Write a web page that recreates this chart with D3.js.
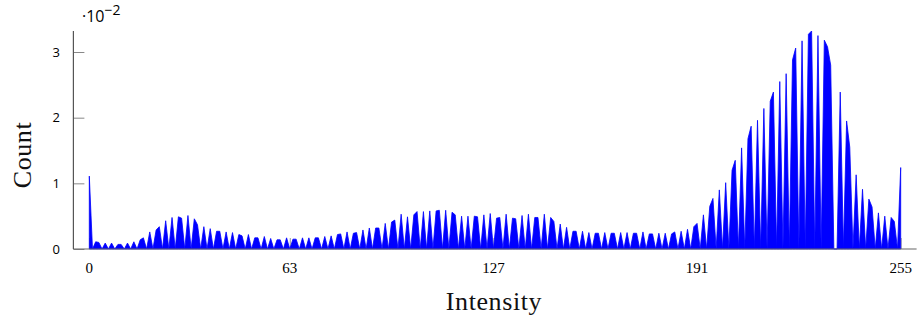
<!DOCTYPE html>
<html>
<head>
<meta charset="utf-8">
<script src="https://cdn.jsdelivr.net/npm/d3@7/dist/d3.min.js"></script>
<style>
  body { margin: 0; background: #fff; }
  .ytick text { font-family: "Open Sans", "Noto Sans", sans-serif; font-size: 13px; }
  .xtick text { font-family: "Liberation Serif", "DejaVu Serif", serif; font-size: 15px; }
  .aLabel { font-family: "Liberation Serif", "DejaVu Serif", serif; font-size: 26px; letter-spacing: 0.6px; fill: #111; }
</style>
</head>
<body>
<div id="chart"></div>
<script>
// histogram of intensities, values read in units of 10^-2
var intensity = d3.range(256);
var counts = [
  1.11, 0, 0.11, 0.10, 0, 0.09, 0, 0.09, 0, 0.07, 0.07, 0, 0.09, 0, 0.11, 0,
  0.14, 0.17, 0, 0.26, 0, 0.29, 0.34, 0, 0.43, 0, 0.48, 0, 0.49, 0.47, 0, 0.51,
  0, 0.46, 0.37, 0, 0.34, 0, 0.31, 0, 0.27, 0.27, 0, 0.26, 0, 0.25, 0, 0.22,
  0.20, 0, 0.22, 0, 0.17, 0.17, 0, 0.19, 0, 0.16, 0, 0.14, 0.14, 0, 0.17, 0,
  0.15, 0.15, 0, 0.17, 0, 0.17, 0, 0.17, 0.17, 0, 0.19, 0, 0.20, 0, 0.22, 0.23,
  0, 0.26, 0, 0.24, 0.25, 0, 0.29, 0, 0.32, 0, 0.32, 0.32, 0, 0.39, 0, 0.41,
  0.44, 0, 0.53, 0, 0.49, 0, 0.52, 0.57, 0, 0.57, 0, 0.58, 0, 0.58, 0.59, 0,
  0.59, 0, 0.56, 0.52, 0, 0.50, 0, 0.50, 0, 0.50, 0.49, 0, 0.52, 0, 0.54, 0,
  0.47, 0.48, 0, 0.53, 0, 0.47, 0.46, 0, 0.51, 0, 0.53, 0, 0.48, 0.48, 0, 0.53,
  0, 0.48, 0.42, 0, 0.38, 0, 0.33, 0, 0.27, 0.27, 0, 0.27, 0, 0.25, 0, 0.24,
  0.24, 0, 0.25, 0, 0.24, 0.24, 0, 0.25, 0, 0.25, 0, 0.24, 0.24, 0, 0.26, 0,
  0.23, 0.23, 0, 0.24, 0, 0.24, 0, 0.23, 0.26, 0, 0.27, 0, 0.30, 0, 0.34, 0.39,
  0, 0.52, 0, 0.65, 0.77, 0, 0.90, 0, 1.01, 0, 1.20, 1.35, 0, 1.54, 0, 1.68,
  1.87, 0, 1.96, 0, 2.14, 0, 2.25, 2.39, 0, 2.55, 0, 2.67, 0, 2.88, 3.06, 0,
  3.17, 0, 3.27, 3.32, 0, 3.25, 0, 3.18, 3.08, 2.80, 0, 0, 2.39, 0, 1.95, 1.55,
  0, 1.13, 0, 0.91, 0, 0.76, 0.64, 0, 0.55, 0, 0.50, 0, 0.48, 0.42, 0, 1.24
];
var xTicks = [0, 63, 127, 191, 255];
var yTicks = [0, 1, 2, 3];

var svgWidth = 919, svgHeight = 321;

var svg = d3.select("#chart").append("svg")
  .attr("width", svgWidth)
  .attr("height", svgHeight);

// scales (x axis enlarged a little past the data, like pgfplots)
var x = d3.scaleLinear().domain([-5, 260]).range([73.4, 916.6]);
var y = d3.scaleLinear().domain([0, d3.max(counts)]).range([249, 31]);

// ticks under the plot
var xAxis = d3.axisTop(x).tickValues(xTicks).tickSize(11).tickFormat("");
var gx = svg.append("g").attr("transform", "translate(0," + y(0) + ")").call(xAxis);
gx.select(".domain").remove();
gx.selectAll("line").attr("stroke", "#999");

var yAxis = d3.axisRight(y).tickValues(yTicks).tickSize(11).tickFormat("");
var gy = svg.append("g").attr("transform", "translate(" + x(-5) + ",0)").call(yAxis);
gy.select(".domain").remove();
gy.selectAll("line").attr("stroke", "#888");

// filled histogram
var area = d3.area()
  .x(function(d, i) { return x(intensity[i]); })
  .y0(y(0))
  .y1(function(d) { return y(d); });

svg.append("path")
  .datum(counts)
  .attr("d", area)
  .attr("fill", "#0000ff")
  .attr("stroke", "#0000ff")
  .attr("stroke-width", 0.8);

// axis lines
svg.append("line")
  .attr("x1", x(-5)).attr("x2", x(260))
  .attr("y1", y(0)).attr("y2", y(0))
  .attr("stroke", "#666").attr("stroke-width", 1.2);
svg.append("line")
  .attr("x1", x(-5)).attr("x2", x(-5))
  .attr("y1", y(0)).attr("y2", y(d3.max(counts)))
  .attr("stroke", "#555").attr("stroke-width", 1.2);

// tick labels
svg.append("g").attr("class", "xtick")
  .selectAll("text").data(xTicks).enter().append("text")
  .attr("x", function(d) { return x(d); })
  .attr("y", 273)
  .attr("text-anchor", "middle")
  .text(function(d) { return d; });

svg.append("g").attr("class", "ytick")
  .selectAll("text").data(yTicks).enter().append("text")
  .attr("x", 60)
  .attr("y", function(d) { return y(d) + 4.5; })
  .attr("text-anchor", "end")
  .text(function(d) { return d; });

// scale note ·10^-2
var note = svg.append("text")
  .attr("x", 82).attr("y", 22)
  .style("font-family", "'Open Sans', 'Noto Sans', sans-serif")
  .style("font-size", "16px");
note.append("tspan").text("\u00b710");
note.append("tspan").attr("dy", -7).style("font-size", "14px").text("\u22122");

// axis labels
svg.append("text")
  .attr("class", "aLabel")
  .attr("x", 494).attr("y", 310)
  .attr("text-anchor", "middle")
  .text("Intensity");

svg.append("text")
  .attr("class", "aLabel")
  .attr("transform", "translate(31," + 155 + ") rotate(-90)")
  .attr("text-anchor", "middle")
  .text("Count");
</script>
</body>
</html>
